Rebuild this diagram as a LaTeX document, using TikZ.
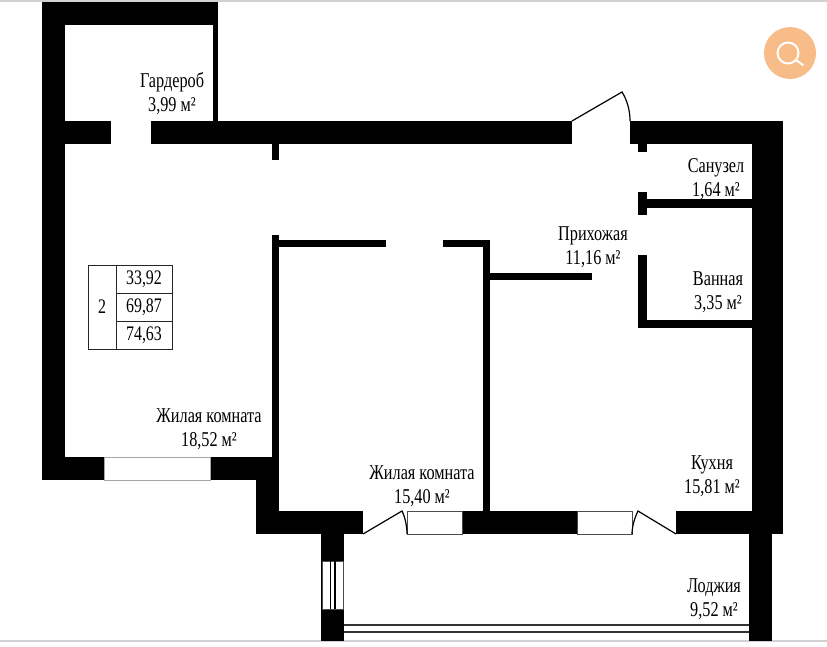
\documentclass[tikz,border=0pt]{standalone}
\usepackage{xcolor}
\usepackage{fontspec}
\setmainfont{Liberation Serif}[FakeStretch=0.77]
\definecolor{badgeorange}{HTML}{F8BC88}
\tikzset{
  wall/.style={fill=black},
  win/.style={draw=black!70, line width=0.6pt, fill=white},
  leaf/.style={draw=black, line width=0.9pt},
  rail/.style={draw=black!80, line width=0.8pt},
  edgeline/.style={draw=black!18, line width=0.9pt},
  roomlabel/.style={align=center, inner sep=0pt, font=\fontsize{15.8}{18}\selectfont},
  cell/.style={draw=black!85, line width=0.65pt, minimum width=42pt, minimum height=21pt, inner sep=0pt, font=\fontsize{15.5}{18}\selectfont},
}
\begin{document}
\begin{tikzpicture}[x=0.75pt, y=-0.75pt]
  \useasboundingbox (0,0) rectangle (827,646);
  \draw[edgeline] (0,1) -- (827,1);
  \draw[edgeline] (0,641) -- (827,641);
  \fill[wall] (42,2) rectangle (218,25);
  \fill[wall] (42,2) rectangle (65,480);
  \fill[wall] (213,25) rectangle (218,121);
  \fill[wall] (42,121) rectangle (111,144);
  \fill[wall] (151,121) rectangle (572,144);
  \fill[wall] (272,144) rectangle (279,160);
  \fill[wall] (630,121) rectangle (783,144);
  \fill[wall] (638,144) rectangle (647,152);
  \fill[wall] (752,121) rectangle (783,534);
  \fill[wall] (638,192) rectangle (647,215);
  \fill[wall] (647,199) rectangle (752,208);
  \fill[wall] (638,255) rectangle (647,328);
  \fill[wall] (638,320) rectangle (752,328);
  \fill[wall] (272,235) rectangle (279,511);
  \fill[wall] (279,240) rectangle (386,247);
  \fill[wall] (443,240) rectangle (490,247);
  \fill[wall] (483,240) rectangle (490,511);
  \fill[wall] (490,273) rectangle (592,280);
  \fill[wall] (42,457) rectangle (279,480);
  \fill[wall] (256,480) rectangle (279,511);
  \fill[wall] (256,511) rectangle (363,534);
  \fill[wall] (407,511) rectangle (577,534);
  \fill[wall] (676,511) rectangle (783,534);
  \fill[wall] (577,511) rectangle (632,534);
  \fill[wall] (321,534) rectangle (344,641);
  \fill[wall] (749,534) rectangle (772,641);
  \draw[win, draw=black!35] (104,457) rectangle (210,480);
  \draw[win] (407,511) rectangle (462,534);
  \draw[win] (577,511) rectangle (632,534);
  \draw[win] (322,561) rectangle (343,609);
  \draw[leaf] (330.5,561) -- (330.5,609);
  \draw[leaf] (335,561) -- (335,609);
  \draw[rail] (344,625) -- (749,625);
  \draw[rail] (344,632) -- (749,632);
  \draw[leaf] (572,121) -- (622,92) .. controls (627,100) and (630,110) .. (630,121);
  \draw[leaf] (363,534) -- (402,511) .. controls (405,517) and (407,526) .. (407,534);
  \draw[leaf] (676,534) -- (638,511) .. controls (635,517) and (632,526) .. (632,534);
  \node[roomlabel] (closet) at (172,94) {Гардероб\\3,99 м²};
  \node[roomlabel] (toilet) at (716,179) {Санузел\\1,64 м²};
  \node[roomlabel] (hall) at (593,247) {Прихожая\\11,16 м²};
  \node[roomlabel] (bath) at (718,292) {Ванная\\3,35 м²};
  \node[roomlabel] (roomA) at (209,429) {Жилая комната\\18,52 м²};
  \node[roomlabel] (roomB) at (422,486) {Жилая комната\\15,40 м²};
  \node[roomlabel] (kitchen) at (712,476) {Кухня\\15,81 м²};
  \node[roomlabel] (loggia) at (714,599) {Лоджия\\9,52 м²};
  \node[cell] (areaA) at (144,279) {33,92};
  \node[cell] (areaB) at (144,307) {69,87};
  \node[cell] (areaC) at (144,335) {74,63};
  \node[cell, minimum width=21pt, minimum height=63pt] (rooms) at (102,307) {2};
  \fill[badgeorange] (790,53) circle (26);
  \draw[white, line width=1.5pt] (788,53) circle (10.5);
  \draw[white, line width=1.5pt, line cap=round] (796,60) -- (803,65);
\end{tikzpicture}
\end{document}
